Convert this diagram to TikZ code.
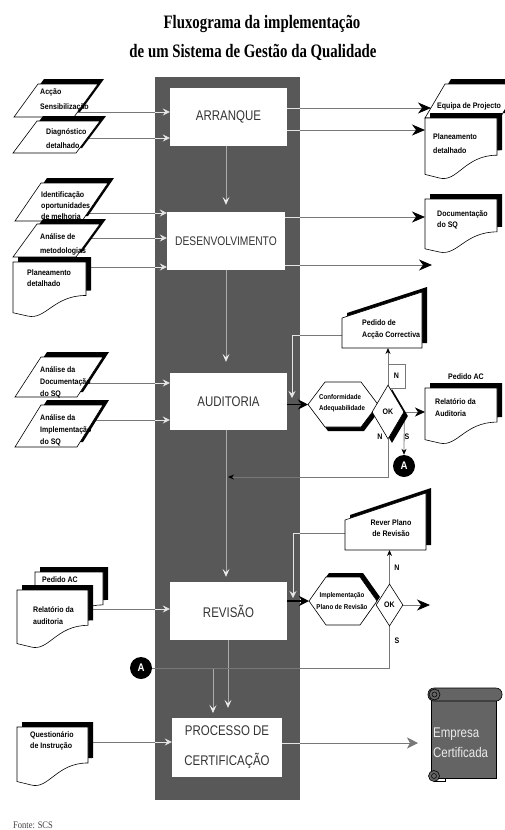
\documentclass[tikz,border=0pt]{standalone}
\usepackage{fontspec}
\setmainfont{Liberation Serif}
\newfontfamily\labfont[FakeStretch=0.88]{Liberation Sans}
\newfontfamily\boxfont[FakeStretch=0.82]{Liberation Sans}
\newfontfamily\titfont[FakeStretch=0.78]{Liberation Serif}
\newfontfamily\srcfont[FakeStretch=0.85]{Liberation Serif}
\usetikzlibrary{arrows.meta,calc,shapes.geometric,shadows}
\pgfdeclarelayer{back}
\pgfdeclarelayer{lines}
\pgfdeclarelayer{shapes}
\pgfsetlayers{back,lines,shapes,main}
\definecolor{colgray}{RGB}{88,88,88}
\definecolor{lngray}{RGB}{120,120,120}
\definecolor{scrollgray}{RGB}{100,100,100}
\tikzset{
 lab/.style={font=\labfont\bfseries\fontsize{8}{#1}\selectfont, inner sep=0pt, align=left, anchor=west},
 lab/.default=11.5,
 slab/.style={font=\labfont\bfseries\fontsize{7}{#1}\selectfont, inner sep=0pt, align=left, anchor=west},
 slab/.default=10.5,
 wbox/.style={fill=white, inner sep=0pt, text=black!80, align=center, font=\boxfont\fontsize{14}{30}\selectfont},
 shp/.style={fill=white, draw=black, line width=0.6pt},
 blk/.style={fill=black},
 gline/.style={draw=lngray, line width=0.8pt},
 wline/.style={draw=white!90!black, line width=0.8pt},
 wtip/.style={-{Stealth[length=7pt,width=7pt,inset=2.5pt]}},
 btip/.style={-{Stealth[length=13pt,width=11pt,inset=4pt,color=black]}},
 mtip/.style={-{Stealth[length=10pt,width=9pt,inset=3pt,color=black]}},
 stip/.style={-{Stealth[length=6pt,width=5pt,color=black]}},
 vln/.style={draw=white!50!colgray, line width=0.6pt, -{Stealth[length=8pt,width=7pt,inset=3.5pt,color=white!92!black]}},
 thick arr/.style={draw=black, line width=1.6pt, -{Stealth[length=10pt,width=10pt,inset=3pt]}},
 conn/.style={circle, fill=black, text=white, minimum size=22pt, inner sep=0pt, font=\labfont\bfseries\fontsize{11}{11}\selectfont},
 okd/.style={diamond, draw=black, fill=white, line width=0.6pt, inner sep=0pt, font=\labfont\bfseries\fontsize{8}{8}\selectfont}
}
% parallelogram: x1 y1 x2 y2 slant
\newcommand\parash[5]{%
 \fill[black] (#1+#5+6,#2-5) -- (#3+6,#2-5) -- (#3-#5+6,#4-5) -- (#1+6,#4-5) -- cycle;
 \filldraw[shp] (#1+#5,#2) -- (#3,#2) -- (#3-#5,#4) -- (#1,#4) -- cycle;}
% document: x1 y1 x2 y2
\newcommand\docsh[4]{%
 \pgfmathsetmacro\dw{#3-#1}\pgfmathsetmacro\dh{#4-#2}%
 \foreach \ox/\oy/\st in {5/-5/blk, 0/0/shp}{%
 \path[\st] (#1+\ox,#2+\oy) -- (#3+\ox,#2+\oy) -- (#3+\ox,#4-0.38*\dh+\oy)
   .. controls (#1+0.55*\dw+\ox,#4-0.38*\dh+\oy) and (#1+0.45*\dw+\ox,#4+0.08*\dh+\oy) .. (#1+0.2*\dw+\ox,#4+\oy)
   .. controls (#1+0.1*\dw+\ox,#4-0.02*\dh+\oy) .. (#1+\ox,#4-0.06*\dh+\oy) -- cycle;}}
% manual input: x1 x2 ytopleft ytopright ybottom
\newcommand\mansh[5]{%
 \fill[black] (#1+5,#5-5) -- (#2+5,#5-5) -- (#2+5,#4-5) -- (#1+5,#3-5) -- cycle;
 \filldraw[shp] (#1,#5) -- (#2,#5) -- (#2,#4) -- (#1,#3) -- cycle;}
% hexagon: x1 y1 x2 y2 slant shadowdx shadowdy
\newcommand\hexsh[7]{%
 \foreach \ox/\oy/\st in {#6/#7/blk, 0/0/shp}{%
 \path[\st] (#1+\ox,#2/2+#4/2+\oy) -- (#1+#5+\ox,#2+\oy) -- (#3-#5+\ox,#2+\oy) -- (#3+\ox,#2/2+#4/2+\oy) -- (#3-#5+\ox,#4+\oy) -- (#1+#5+\ox,#4+\oy) -- cycle;}}
\begin{document}
\begin{tikzpicture}[x=1pt,y=-1pt]
\useasboundingbox (0,0) rectangle (504,830);
\begin{pgfonlayer}{back}
\node[fill=colgray, minimum width=145pt, minimum height=723pt, inner sep=0pt] (col) at (227.5,438.5) {};
\end{pgfonlayer}
% title
\node[anchor=base, inner sep=0pt, font=\titfont\bfseries\fontsize{19}{19}\selectfont] (tit1) at (262,28) {Fluxograma da implementação};
\node[anchor=base, inner sep=0pt, font=\titfont\bfseries\fontsize{19}{19}\selectfont] (tit2) at (253,57) {de um Sistema de Gestão da Qualidade};
% main boxes
\node[wbox, minimum width=117pt, minimum height=58pt] (arr) at (228.5,117) {ARRANQUE};
\node[wbox, minimum width=118pt, minimum height=58pt, font=\boxfont\fontsize{12.5}{14}\selectfont] (des) at (226,241) {DESENVOLVIMENTO};
\node[wbox, minimum width=117pt, minimum height=57pt] (aud) at (228.5,401.5) {AUDITORIA};
\node[wbox, minimum width=117pt, minimum height=58pt] (rev) at (228.5,611) {REVISÃO};
\node[wbox, minimum width=110pt, minimum height=59pt] (proc) at (227,747.5) {PROCESSO DE\\CERTIFICAÇÃO};
% shapes
\begin{pgfonlayer}{shapes}
\parash{14}{84}{98}{117}{24}
\parash{13}{121}{100}{153}{24}
\parash{15}{183}{108}{221}{26}
\parash{13}{224}{100}{257}{24}
\docsh{13}{262}{86}{316}
\parash{425}{84}{520}{118}{20}
\docsh{425}{118}{497}{178}
\docsh{425}{199}{497}{252}
\parash{15}{357}{103}{397}{26}
\parash{15}{405}{103}{447}{26}
\hexsh{308}{382}{378}{427}{17}{3}{4}
\mansh{342}{422}{318}{292}{348}
\docsh{425}{388}{497}{443}
\docsh{35}{572}{103}{625}
\docsh{17}{590}{88}{647}
\hexsh{309}{577}{377}{625}{17}{3}{-4}
\mansh{345}{426}{520}{493}{550}
\docsh{17}{727}{88}{785}
% scroll
\filldraw[fill=scrollgray, draw=black, line width=0.6pt] (431,697) rectangle (496,778);
\filldraw[fill=scrollgray, draw=black, line width=0.6pt, rounded corners=6pt] (428,688) rectangle (502,701);
\filldraw[fill=scrollgray, draw=black, line width=0.6pt] (434.5,694.5) circle (5.5);
\draw[black, line width=0.5pt] (434.5,694.5) circle (2.5);
\filldraw[fill=scrollgray, draw=black, line width=0.6pt] (434,776) circle (5.5);
\draw[black, line width=0.5pt] (434,776) circle (2.5);
\draw[black, line width=0.6pt] (434,781.5) -- (445,781.5) -- (445,778);
\draw[lngray, line width=0.5pt] (388,364) rectangle (405,388);
\end{pgfonlayer}
% shape texts
\node[lab=15] (t1) at (40,99.5) {Acção\\Sensibilização};
\node[lab=14] (t2) at (46,139) {Diagnóstico\\detalhado};
\node[lab=11] (t3) at (41,206) {Identificação\\oportunidades\\de melhoria};
\node[lab=14] (t4) at (40,244) {Análise de\\metodologias};
\node[lab=11] (t5) at (27,278.5) {Planeamento\\detalhado};
\node[lab] (t6) at (437,106) {Equipa de Projecto};
\node[lab=14] (t7) at (433,144) {Planeamento\\detalhado};
\node[lab=11] (t8) at (437,220) {Documentação\\do SQ};
\node[lab=12] (t9) at (40,382) {Análise da\\Documentação\\do SQ};
\node[lab=12] (t10) at (40,430) {Análise da\\Implementação\\do SQ};
\node[slab] (t11) at (319,403) {Conformidade\\Adequabilidade};
\node[lab=12] (t12) at (362,329) {Pedido de\\Acção Correctiva};
\node[lab, anchor=center] (t13) at (466,377) {Pedido AC};
\node[lab=11.5] (t14) at (435,407.5) {Relatório da\\Auditoria};
\node[lab, anchor=center] (t15) at (60,580) {Pedido AC};
\node[lab=12] (t16) at (33,616) {Relatório da\\auditoria};
\node[slab=12, align=center, anchor=center] (t17) at (342,601) {Implementação\\Plano de Revisão};
\node[lab=11, align=center, anchor=center] (t18) at (391,528.5) {Rever Plano\\de Revisão};
\node[lab=11] (t19) at (30,740.5) {Questionário\\de Instrução};
\node[anchor=west, inner sep=0pt, align=left, text=white!92!black, font=\boxfont\fontsize{14}{20}\selectfont] (t20) at (433,743) {Empresa\\Certificada};
\node[lab, anchor=center] (n1box) at (396.5,376) {N};
\node[lab, anchor=center] (n1) at (380,437) {N};
\node[lab, anchor=center] (s1) at (407,437) {S};
\node[lab, anchor=center] (n2) at (397,568) {N};
\node[lab, anchor=center] (s2) at (397,641) {S};
\node[anchor=base west, inner sep=0pt, font=\srcfont\fontsize{10}{10}\selectfont, text=black!75] (src) at (13,828) {Fonte: SCS};
% decisions and connectors
\node[okd, minimum width=32pt, minimum height=54pt, general shadow={fill=black, shadow xshift=4pt, shadow yshift=-4pt}] (ok1) at (388,412) {OK};
\node[okd, minimum width=27pt, minimum height=42pt] (ok2) at (389.5,605) {OK};
\node[conn] (A1) at (404,466) {A};
\node[conn] (A2) at (141,668) {A};
% named coordinates
\coordinate (c1) at (60,112);
\coordinate (c2) at (60,138);
\coordinate (c3) at (60,213);
\coordinate (c4) at (60,238);
\coordinate (c5) at (50,267);
\coordinate (c6) at (60,383);
\coordinate (c7) at (60,420);
\coordinate (c8) at (50,609);
\coordinate (c9) at (50,742);
\coordinate (o1) at (431,108);
\coordinate (o2) at (425,130);
\coordinate (o3) at (425,217);
\coordinate (o4) at (432,265);
\coordinate (o5) at (425,412);
\coordinate (o6) at (430,605);
\coordinate (o7) at (418,743);
\coordinate (h1w) at (308,404.5);
\coordinate (h2w) at (309,601);
\coordinate (m1l) at (342,335);
\coordinate (m1b) at (388,348);
\coordinate (lp1) at (292,335);
\coordinate (lp1e) at (292,398);
\coordinate (m2l) at (345,533);
\coordinate (m2b) at (389.5,550);
\coordinate (lp2) at (293,533);
\coordinate (lp2e) at (293,598);
\coordinate (nl) at (228,477);
\coordinate (sc) at (389.5,668);
\coordinate (br) at (213,668);
\coordinate (bre) at (213,713);
\begin{pgfonlayer}{lines}
% inputs
\foreach \c/\b in {c1/arr,c2/arr,c3/des,c4/des,c5/des,c6/aud,c7/aud,c8/rev,c9/proc}{
 \draw[gline] (\c) -- (\c -| col.west);
 \draw[wline,wtip] (\c -| col.west) -- (\c -| \b.west);}
% outputs
\foreach \o/\b in {o1/arr,o2/arr,o3/des,o4/des}{
 \draw[wline] (\b.east |- \o) -- (col.east |- \o);
 \draw[gline,btip] (col.east |- \o) -- (\o);}
\draw[wline] (proc.east |- o7) -- (col.east |- o7);
\draw[gline,-{Stealth[length=11pt,width=11pt,inset=3pt,color=lngray]}] (col.east |- o7) -- (o7);
% vertical flow
\draw[vln] (arr.south -| des.north) -- ([yshift=7pt]des.north);
\draw[vln] (des.south) -- ([yshift=11pt]aud.north -| des.south);
\draw[vln] (aud.south -| des.south) -- ([yshift=5pt]rev.north -| des.south);
\draw[vln] (rev.south -| nl) -- ([yshift=10pt]proc.north -| nl);
\draw[vln] (br) -- (bre);
% auditoria
\draw[thick arr] (aud.east |- h1w) -- (h1w);
\draw[gline,mtip] (ok1.east) -- (o5);
\draw[gline,stip] (ok1.north) -- (m1b);
\draw[gline] (m1l) -- (m1l -| col.east);
\draw[wline,wtip] (m1l -| col.east) -- (lp1) -- (lp1e);
\draw[gline,stip] (ok1.south) -- (ok1.south |- nl) -- (nl);
\draw[gline,stip] (ok1.east) -- (A1.north);
% revisao
\draw[thick arr] (rev.east |- h2w) -- (h2w);
\draw[gline,stip] (ok2.north) -- (m2b);
\draw[gline] (m2l) -- (m2l -| col.east);
\draw[wline,wtip] (m2l -| col.east) -- (lp2) -- (lp2e);
\draw[gline,btip] (ok2.east) -- (o6);
\draw[gline] (ok2.south) -- (sc) -- (A2.east);
\end{pgfonlayer}
\end{tikzpicture}
\end{document}
